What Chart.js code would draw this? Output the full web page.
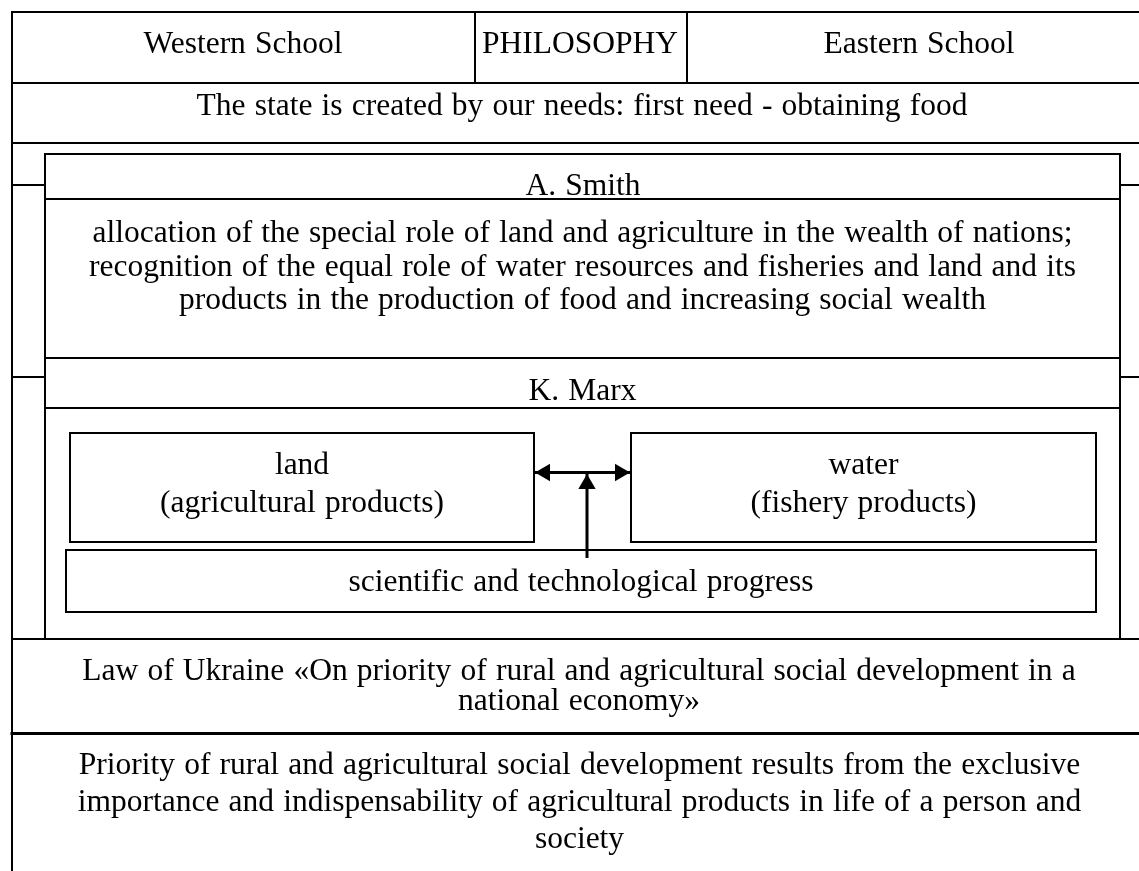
<!DOCTYPE html>
<html>
<head>
<meta charset="utf-8">
<script src="https://cdn.jsdelivr.net/npm/chart.js@4/dist/chart.umd.min.js"></script>
<style>
html,body{margin:0;padding:0;background:#fff;overflow:hidden}
#wrap{width:1139px;height:871px;position:relative}
canvas{display:block}
</style>
</head>
<body>
<div id="wrap"><canvas id="c" width="1139" height="871"></canvas></div>
<script>
// ---- text content ----
const headerLabels = ['Western School', 'PHILOSOPHY', 'Eastern School'];
const premiseLabel = ['The state is created by our needs: first need - obtaining food'];
const smithTitle = ['A. Smith'];
const smithText = [
  'allocation of the special role of land and agriculture in the wealth of nations;',
  'recognition of the equal role of water resources and fisheries and land and its',
  'products in the production of food and increasing social wealth'
];
const marxTitle = ['K. Marx'];
const landText = ['land', '(agricultural products)'];
const waterText = ['water', '(fishery products)'];
const progressText = ['scientific and technological progress'];
const lawText = [
  'Law of Ukraine «On priority of rural and agricultural social development in a',
  'national economy»'
];
const priorityText = [
  'Priority of rural and agricultural social development results from the exclusive',
  'importance and indispensability of agricultural products in life of a person and',
  'society'
];

// ---- diagram layout (diagram units) ----
const frameSegments = [
  // [x1, y1, x2, y2, width]
  [12, 12, 1139, 12, 2],
  [12, 83, 1139, 83, 2],
  [12, 143, 1139, 143, 2],
  [12, 12, 12, 871, 2],
  [475, 12, 475, 83, 2],
  [687, 12, 687, 83, 2],
  [12, 185, 45, 185, 2],
  [1120, 185, 1139, 185, 2],
  [12, 377, 45, 377, 2],
  [1120, 377, 1139, 377, 2],
  [45, 199, 1120, 199, 2],
  [45, 358, 1120, 358, 2],
  [45, 408, 1120, 408, 2],
  [12, 639, 1139, 639, 2],
  [12, 733.5, 1139, 733.5, 3]
];
const boxRects = [
  // [x1, y1, x2, y2, width]
  [45, 154, 1120, 639, 2],
  [70, 433, 534, 542, 2],
  [631, 433, 1096, 542, 2],
  [66, 550, 1096, 612, 2]
];
const arrowLines = [
  // [x1, y1, x2, y2, headAtStart, headAtEnd]
  [535, 472.5, 630, 472.5, true, true],
  [587, 558, 587, 474, false, true]
];
const headRadius = 10;

const textBlocks = [
  { lines: [headerLabels[0]], cx: 243, base: 53, step: 0 },
  { lines: [headerLabels[1]], cx: 580, base: 53, step: 0 },
  { lines: [headerLabels[2]], cx: 919, base: 53, step: 0 },
  { lines: premiseLabel, cx: 582, base: 115, step: 0 },
  { lines: smithTitle, cx: 583, base: 195, step: 0 },
  { lines: smithText, cx: 582.5, base: 242, step: 33.5 },
  { lines: marxTitle, cx: 582.5, base: 400, step: 0 },
  { lines: landText, cx: 302, base: 474, step: 38 },
  { lines: waterText, cx: 863.5, base: 474, step: 38 },
  { lines: progressText, cx: 581, base: 591, step: 0 },
  { lines: lawText, cx: 579, base: 680, step: 29.5 },
  { lines: priorityText, cx: 579.5, base: 774, step: 37 }
];

// ---- build datasets ----
const datasets = [];
frameSegments.forEach(s => {
  datasets.push({
    data: [{x: s[0], y: s[1]}, {x: s[2], y: s[3]}],
    showLine: true, borderColor: '#000', borderWidth: s[4],
    borderCapStyle: 'square', pointRadius: 0, fill: false, tension: 0
  });
});
boxRects.forEach(r => {
  datasets.push({
    data: [{x: r[0], y: r[1]}, {x: r[2], y: r[1]}, {x: r[2], y: r[3]}, {x: r[0], y: r[3]}, {x: r[0], y: r[1]}],
    showLine: true, borderColor: '#000', borderWidth: r[4],
    borderJoinStyle: 'miter', borderCapStyle: 'square', pointRadius: 0, fill: false, tension: 0
  });
});
const headPts = [], headRot = [];
arrowLines.forEach(a => {
  datasets.push({
    data: [{x: a[0], y: a[1]}, {x: a[2], y: a[3]}],
    showLine: true, borderColor: '#000', borderWidth: 3,
    borderCapStyle: 'butt', pointRadius: 0, fill: false, tension: 0
  });
  const dx = a[2] - a[0], dy = a[3] - a[1];
  const len = Math.hypot(dx, dy), ux = dx / len, uy = dy / len;
  if (a[5]) {
    headPts.push({x: a[2] - ux * headRadius, y: a[3] - uy * headRadius});
    headRot.push(Math.atan2(ux, -uy) * 180 / Math.PI);
  }
  if (a[4]) {
    headPts.push({x: a[0] + ux * headRadius, y: a[1] + uy * headRadius});
    headRot.push(Math.atan2(-ux, uy) * 180 / Math.PI);
  }
});
datasets.push({
  data: headPts, showLine: false, pointStyle: 'triangle',
  pointRadius: headRadius, pointRotation: headRot,
  backgroundColor: '#000', borderColor: '#000', pointBorderWidth: 0, borderWidth: 0
});

const textPlugin = {
  id: 'diagramText',
  afterDatasetsDraw(chart) {
    const {ctx, scales: {x, y}} = chart;
    ctx.save();
    ctx.font = '31.5px "Liberation Serif", "Times New Roman", serif';
    if ('wordSpacing' in ctx) ctx.wordSpacing = '1.3px';
    ctx.fillStyle = '#000';
    ctx.textAlign = 'center';
    ctx.textBaseline = 'alphabetic';
    textBlocks.forEach(b => {
      b.lines.forEach((t, i) => {
        ctx.fillText(t, x.getPixelForValue(b.cx), y.getPixelForValue(b.base + i * b.step));
      });
    });
    ctx.restore();
  }
};

const bgPlugin = {
  id: 'bg',
  beforeDraw(chart) {
    const ctx = chart.ctx;
    ctx.save();
    ctx.fillStyle = '#fff';
    ctx.fillRect(0, 0, chart.width, chart.height);
    ctx.restore();
  }
};

new Chart(document.getElementById('c'), {
  type: 'scatter',
  data: { datasets },
  options: {
    responsive: false,
    devicePixelRatio: 1,
    animation: false,
    layout: { padding: 0, autoPadding: false },
    plugins: { legend: { display: false }, tooltip: { enabled: false } },
    events: [],
    scales: {
      x: { type: 'linear', min: 0, max: 1139, display: false },
      y: { type: 'linear', min: 0, max: 871, reverse: true, display: false }
    },
    elements: { line: { tension: 0 } }
  },
  plugins: [bgPlugin, textPlugin]
});
</script>
</body>
</html>
